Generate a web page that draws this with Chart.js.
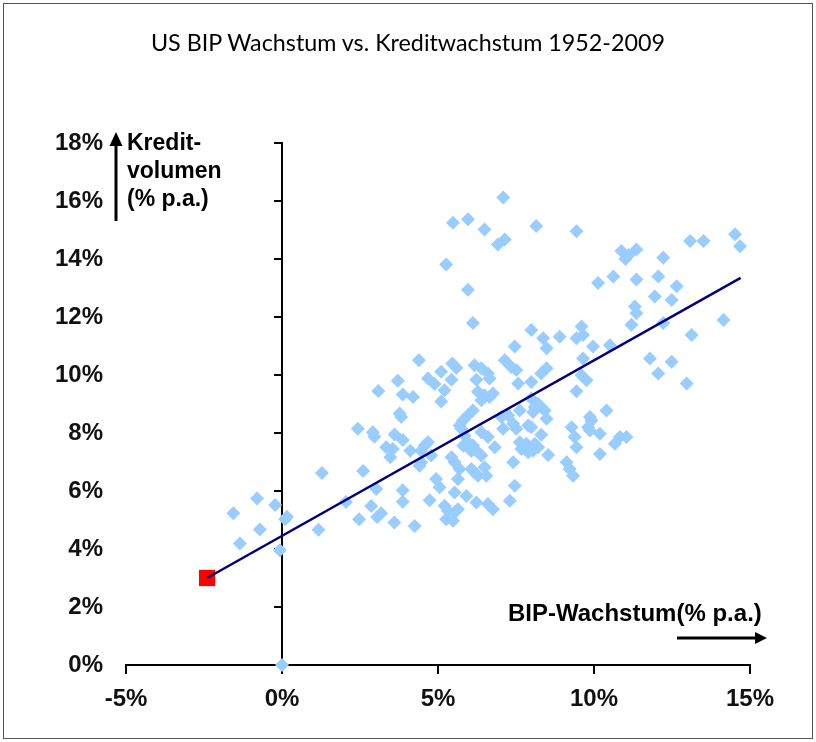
<!DOCTYPE html>
<html>
<head>
<meta charset="utf-8">
<script src="https://cdn.jsdelivr.net/npm/chart.js@4/dist/chart.umd.min.js"></script>
<style>
  html, body { margin: 0; padding: 0; background: #fff; }
  #wrap { position: relative; width: 816px; height: 742px; overflow: hidden; background: #fff; }
  #frame { position: absolute; left: 3px; top: 3px; width: 810px; height: 736px; border: 1px solid #555; box-sizing: border-box; }
  canvas { position: absolute; left: 0; top: 0; }
  #title { position: absolute; left: 0; top: 28px; width: 816px; text-align: center; font-family: Lato, "Open Sans", sans-serif; font-size: 23.3px; color: #000; white-space: nowrap; }
  .ann { position: absolute; font-family: "Liberation Sans", Arial, sans-serif; font-weight: bold; color: #000; white-space: nowrap; }
  #ylab { left: 127px; top: 128px; font-size: 23px; line-height: 28px; }
  #xlab { left: 508px; top: 601px; font-size: 24px; line-height: 24px; }
  svg { position: absolute; left: 0; top: 0; }
</style>
</head>
<body>
<div id="wrap">
  <div id="frame"></div>
  <canvas id="c" width="816" height="742"></canvas>
  <div id="title">US BIP Wachstum vs. Kreditwachstum 1952-2009</div>
  <div class="ann" id="ylab">Kredit-<br>volumen<br>(% p.a.)</div>
  <div class="ann" id="xlab">BIP-Wachstum(% p.a.)</div>
  <svg width="816" height="742">
    <line x1="116" y1="221" x2="116" y2="142" stroke="#000" stroke-width="3"/>
    <polygon points="109.5,146 122.5,146 116,132" fill="#000"/>
    <line x1="677" y1="638" x2="758" y2="638" stroke="#000" stroke-width="3"/>
    <polygon points="755,632 755,644 767,638" fill="#000"/>
  </svg>
</div>
<script>
// Annual data points: BIP-Wachstum (x, % p.a.) vs. Kreditvolumen-Wachstum (y, % p.a.)
const gdpGrowth = [
  -1.56, -0.80, -0.22, 0.16, 0.10, -0.71, -1.35, -0.07, 0.00, 1.17,
  1.28, 2.05, 2.60, 2.47, 2.86, 3.05, 3.18, 3.02, 2.43, 2.91,
  2.96, 3.61, 3.87, 3.34, 3.55, 3.47, 4.11, 4.68, 4.57, 4.46,
  4.46, 4.41, 4.78, 3.09, 3.71, 3.87, 4.20, 3.77, 3.82, 4.39,
  5.46, 5.59, 5.10, 4.68, 4.89, 5.43, 5.21, 5.10, 6.17, 6.39,
  6.60, 6.23, 6.65, 7.46, 7.14, 7.35, 7.51, 6.28, 6.49, 6.39,
  6.65, 6.76, 6.12, 5.96, 5.80, 5.69, 5.75, 5.85, 5.96, 6.12,
  6.39, 6.60, 6.28, 6.39, 6.82, 7.09, 7.03, 7.25, 7.41, 7.41,
  5.43, 5.53, 5.64, 6.07, 6.17, 6.28, 6.49, 6.55, 7.46, 4.94,
  5.05, 5.53, 5.91, 6.23, 6.60, 6.76, 7.30, 5.21, 5.32, 5.53,
  5.64, 5.26, 5.48, 4.73, 3.87, 3.87, 3.60, 4.25, 5.69, 5.81,
  6.07, 7.67, 7.89, 7.57, 7.62, 7.51, 7.89, 8.05, 8.21,
  7.09, 5.48, 5.96, 6.49, 8.15, 9.44, 6.92, 7.14, 5.26, 5.96,
  6.12, 10.13, 10.62, 7.99, 8.37, 8.48, 8.90, 9.44, 9.60, 9.65,
  9.97,
  10.88, 11.01, 11.11, 11.36, 12.22, 13.08, 13.51, 14.52, 14.68, 11.36,
  12.06, 12.65, 11.95, 12.49, 11.31, 11.36, 11.20, 12.22, 14.15, 13.13,
  10.51, 11.79, 12.49, 12.06,
  12.97, 8.48, 8.31, 9.65, 9.60, 9.76, 9.44, 7.99, 7.99, 8.10,
  8.42, 8.48, 7.99, 8.31, 7.62, 7.83, 7.94, 8.05, 8.10, 8.21,
  8.53, 9.28, 9.38, 9.44, 9.87, 9.92, 9.81, 9.87, 10.19, 10.40,
  10.19, 9.12, 9.22, 9.33, 10.67, 10.83, 11.04
];
const creditGrowth = [
  5.23, 5.74, 5.52, 5.11, 5.03, 4.67, 4.19, 3.96, 0.00, 4.66,
  6.62, 5.62, 6.69, 5.03, 5.48, 5.10, 5.23, 6.07, 8.15, 8.03,
  7.87, 7.95, 7.76, 7.51, 7.45, 7.16, 7.39, 7.68, 7.57, 7.39,
  6.99, 6.87, 7.22, 9.45, 9.80, 9.33, 9.24, 8.67, 8.55, 10.51,
  10.40, 10.25, 10.11, 9.88, 9.69, 9.84, 9.47, 9.09, 10.34, 10.23,
  10.05, 9.84, 9.88, 10.98, 10.51, 10.28, 10.17, 9.42, 9.30, 9.13,
  9.24, 9.36, 8.78, 8.61, 8.43, 8.26, 8.15, 7.91, 7.68, 7.57,
  8.03, 7.86, 7.34, 7.22, 7.51, 8.15, 8.55, 8.61, 8.32, 6.99,
  7.16, 6.99, 6.41, 6.76, 6.64, 6.53, 6.82, 6.53, 6.18, 6.41,
  6.13, 5.95, 5.83, 5.60, 5.55, 5.37, 5.66, 5.49, 5.31, 5.26,
  5.37, 5.03, 4.97, 5.68, 6.03, 5.63, 4.91, 4.79, 6.76, 7.56,
  7.38, 7.45, 7.34, 9.71, 8.78, 8.15, 8.26, 8.72, 9.01,
  16.12, 15.25, 15.37, 15.02, 15.14, 14.96, 14.50, 14.67, 13.81, 12.94,
  11.79, 13.17, 13.40, 11.55, 11.27, 10.92, 11.32, 11.27, 11.67, 11.38,
  10.98,
  14.28, 14.00, 14.14, 14.33, 14.04, 14.62, 14.62, 14.85, 14.44, 13.29,
  13.40, 13.06, 12.71, 12.59, 12.36, 12.13, 11.73, 11.79, 11.90, 11.38,
  11.03, 10.57, 10.46, 10.05,
  9.71, 10.23, 10.05, 10.57, 9.99, 9.82, 9.44, 9.76, 9.19, 8.90,
  8.78, 8.49, 8.20, 7.94, 7.68, 7.63, 7.51, 7.39, 7.63, 7.51,
  7.24, 8.20, 7.86, 7.51, 8.55, 8.43, 8.20, 8.09, 7.97, 8.78,
  7.28, 6.99, 6.76, 6.53, 7.63, 7.86, 7.86
];
// Highlighted year 2009
const highlightGdp = [-2.4];
const highlightCredit = [3.0];
// Trend line end points
const trendGdp = [-2.4, 14.7];
const trendCredit = [3.0, 13.35];
// Axis ticks
const xTicks = [-5, 0, 5, 10, 15];
const yTicks = [0, 2, 4, 6, 8, 10, 12, 14, 16, 18];

const toPoints = (xs, ys) => xs.map((x, i) => ({ x: x, y: ys[i] }));

const yAxisAtZero = {
  id: 'yAxisAtZero',
  beforeDatasetsDraw(chart) {
    const { ctx, scales: { x, y } } = chart;
    const px = x.getPixelForValue(0);
    ctx.save();
    ctx.strokeStyle = '#000';
    ctx.lineWidth = 2;
    ctx.beginPath();
    ctx.moveTo(px, y.getPixelForValue(yTicks[0]));
    ctx.lineTo(px, y.getPixelForValue(yTicks[yTicks.length - 1]) - 1);
    yTicks.forEach(v => {
      const py = y.getPixelForValue(v);
      ctx.moveTo(px - 8, py);
      ctx.lineTo(px, py);
    });
    ctx.stroke();
    ctx.restore();
  }
};

const tickFont = { family: '"Liberation Sans", Arial, sans-serif', weight: 'bold', size: 24 };

new Chart(document.getElementById('c'), {
  type: 'scatter',
  data: {
    datasets: [
      {
        label: 'Trend',
        type: 'line',
        data: toPoints(trendGdp, trendCredit),
        borderColor: '#000080',
        borderWidth: 2.5,
        pointRadius: 0,
        fill: false,
        order: 0
      },
      {
        label: '2009',
        data: toPoints(highlightGdp, highlightCredit),
        pointStyle: 'rect',
        pointRadius: 11.5,
        backgroundColor: '#ff0000',
        borderColor: '#ff0000',
        borderWidth: 0,
        order: 1
      },
      {
        label: '1952-2009',
        data: toPoints(gdpGrowth, creditGrowth),
        pointStyle: 'rectRot',
        pointRadius: 7,
        backgroundColor: '#99ccff',
        borderColor: '#99ccff',
        borderWidth: 0,
        clip: false,
        order: 2
      }
    ]
  },
  options: {
    responsive: false,
    animation: false,
    layout: { padding: { left: 0, top: 143, right: 66, bottom: 0 } },
    plugins: { legend: { display: false }, tooltip: { enabled: false }, title: { display: false } },
    scales: {
      x: {
        type: 'linear',
        min: -5, max: 15,
        afterBuildTicks: s => { s.ticks = xTicks.map(v => ({ value: v })); },
        afterFit: s => { s.height = 77; },
        ticks: { callback: v => v + '%', font: tickFont, color: '#111', padding: 11, maxRotation: 0 },
        grid: { display: true, drawOnChartArea: false, drawTicks: true, tickLength: 9, color: '#000', lineWidth: 2 },
        border: { display: true, color: '#000', width: 2 }
      },
      y: {
        type: 'linear',
        min: 0, max: 18,
        afterBuildTicks: s => { s.ticks = yTicks.map(v => ({ value: v })); },
        afterFit: s => { s.width = 126; },
        ticks: { callback: v => v + '%', font: tickFont, color: '#111', padding: 23 },
        grid: { display: false, drawTicks: false },
        border: { display: false }
      }
    }
  },
  plugins: [yAxisAtZero]
});
</script>
</body>
</html>
